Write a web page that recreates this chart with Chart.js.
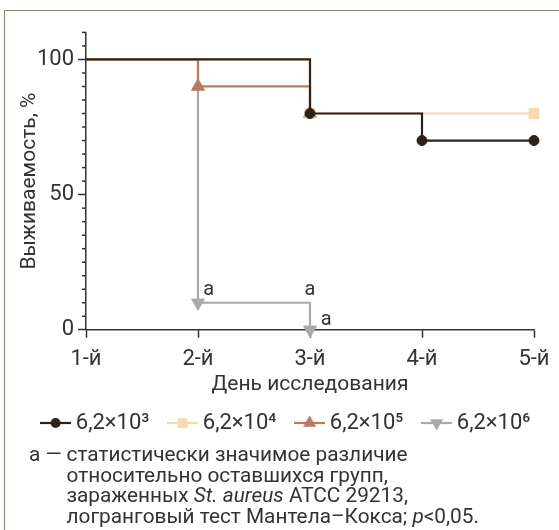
<!DOCTYPE html>
<html>
<head>
<meta charset="utf-8">
<script src="https://cdn.jsdelivr.net/npm/chart.js@4/dist/chart.umd.min.js"></script>
<style>
  body { margin: 0; background: #fff; }
  #wrap { position: relative; width: 559px; height: 530px; overflow: hidden; font-family: Roboto, sans-serif; color: #333; }
  #frame { position: absolute; left: 4px; top: 10px; width: 700px; height: 700px; border-top: 1.5px solid #8f7e66; border-left: 1.5px solid #8f7e66; }
  #cv { position: absolute; left: 0; top: 0; }
  #note { position: absolute; left: 29px; top: 444px; display: flex; font-size: 20.8px; line-height: 20.6px; white-space: nowrap; }
  #note .mark { width: 37.5px; }
</style>
</head>
<body>
<div id="wrap">
  <div id="frame"></div>
  <canvas id="cv" width="559" height="444"></canvas>
  <div id="note">
    <span class="mark">а —</span>
    <span>статистически значимое различие<br>относительно оставшихся групп,<br>зараженных <i>St. aureus</i> ATCC 29213,<br>логранговый тест Мантела–Кокса; <i>p</i>&lt;0,05.</span>
  </div>
</div>
<script>
// дни наблюдения и выживаемость по группам (КОЕ)
const days = [1, 2, 3, 4, 5];
const dayLabels = ['1-й', '2-й', '3-й', '4-й', '5-й'];
const groupNames = ['6,2×10³', '6,2×10⁴', '6,2×10⁵', '6,2×10⁶'];
const survival1 = [100, 100, 80, 70, 70];
const survival2 = [100, 100, 80, 80, 80];
const survival3 = [100, 90, 80];
const survival4 = [100, 10, 0];
const yLabelTicks = [0, 50, 100];
// метки «а» (значимое различие)
const noteX = [2.095, 3.0, 3.145];
const noteY = [14.6, 14.6, 3.7];
const noteText = ['a', 'a', 'a'];

const colors = ['#2c211b', '#f9d8ae', '#b77b61', '#a8a9ac'];
const styles = ['circle', 'rect', 'triangle', 'triangle'];
const rotations = [0, 0, 0, 180];
const radii = [5, 7, 7.5, 7.5];
const axisColor = '#333';
const FONT = 'Roboto, sans-serif';

function toPoints(vals) {
    return vals.map((v, i) => ({x: days[i], y: v}));
}

// маркер только там, где выживаемость изменилась, и в последней точке
function markRadius(r) {
    return ctx => {
        const d = ctx.dataset.data, i = ctx.dataIndex;
        if (i === 0) return 0;
        if (i === d.length - 1 || d[i].y !== d[i - 1].y) return r;
        return 0;
    };
}

function legendIcon(i) {
    const c = document.createElement('canvas');
    c.width = 31; c.height = 16;
    const g = c.getContext('2d');
    g.strokeStyle = colors[i]; g.lineWidth = 2.2;
    g.beginPath(); g.moveTo(0, 8); g.lineTo(31, 8); g.stroke();
    g.fillStyle = colors[i];
    Chart.helpers.drawPoint(g, {pointStyle: styles[i], radius: radii[i], rotation: rotations[i], borderWidth: 0}, 15.5, 8);
    return c;
}

const allSeries = [survival1, survival2, survival3, survival4];
const datasets = allSeries.map((vals, i) => ({
    label: groupNames[i],
    data: toPoints(vals),
    borderColor: colors[i],
    backgroundColor: colors[i],
    borderWidth: 2.2,
    stepped: 'before',
    pointStyle: styles[i],
    pointRotation: rotations[i],
    pointRadius: markRadius(radii[i]),
    pointBorderWidth: 1,
    pointHoverRadius: markRadius(radii[i]),
    clip: false
}));

const extras = {
    id: 'extras',
    beforeDatasetsDraw(chart) {
        const {ctx, scales: {y}} = chart;
        ctx.save();
        ctx.strokeStyle = axisColor;
        ctx.lineWidth = 1.5;
        y.ticks.forEach(t => {
            if (yLabelTicks.includes(t.value)) return;
            const py = y.getPixelForValue(t.value);
            ctx.beginPath();
            ctx.moveTo(y.right - 4, py);
            ctx.lineTo(y.right, py);
            ctx.stroke();
        });
        ctx.restore();
    },
    afterDraw(chart) {
        const {ctx, scales: {x, y}} = chart;
        ctx.save();
        ctx.fillStyle = axisColor;
        ctx.font = '20px ' + FONT;
        ctx.textAlign = 'center';
        ctx.textBaseline = 'middle';
        noteText.forEach((s, i) => ctx.fillText(s, x.getPixelForValue(noteX[i]), y.getPixelForValue(noteY[i])));
        ctx.restore();
    }
};

new Chart(document.getElementById('cv'), {
    type: 'line',
    data: {datasets},
    plugins: [extras],
    options: {
        responsive: false,
        animation: false,
        events: [],
        layout: {padding: {left: 21.4, right: 3.6, top: 32.4, bottom: 0}},
        plugins: {
            tooltip: {enabled: false},
            legend: {
                position: 'bottom',
                labels: {
                    usePointStyle: true,
                    pointStyleWidth: 18.4,
                    boxHeight: 16,
                    padding: 24,
                    color: axisColor,
                    font: {family: FONT, size: 22},
                    generateLabels: chart => chart.data.datasets.map((ds, i) => ({
                        text: ds.label,
                        pointStyle: legendIcon(i),
                        fillStyle: colors[i],
                        strokeStyle: colors[i],
                        lineWidth: 0,
                        fontColor: axisColor,
                        datasetIndex: i,
                        hidden: false
                    }))
                }
            }
        },
        scales: {
            x: {
                type: 'linear',
                min: 1, max: 5,
                afterFit: s => { s.height = 58.2; },
                border: {color: axisColor, width: 1.5},
                grid: {drawOnChartArea: false, tickLength: 8, tickWidth: 1.5, tickColor: axisColor},
                ticks: {stepSize: 1, padding: 8, color: axisColor, font: {family: FONT, size: 22},
                        callback: v => dayLabels[v - 1]},
                title: {display: true, text: 'День исследования', color: axisColor,
                        font: {family: FONT, size: 21}, padding: {top: 0, bottom: -9}}
            },
            y: {
                min: 0, max: 110,
                afterFit: s => { s.width = 64.6; },
                border: {color: axisColor, width: 1.5},
                grid: {drawOnChartArea: false, tickLength: 8, tickWidth: 1.5,
                       tickColor: c => yLabelTicks.includes(c.tick.value) ? axisColor : 'rgba(0,0,0,0)'},
                ticks: {stepSize: 5, autoSkip: false, padding: 4, color: axisColor, font: {family: FONT, size: 22},
                        callback: v => yLabelTicks.includes(v) ? v : ''},
                title: {display: true, text: 'Выживаемость, %', color: axisColor,
                        font: {family: FONT, size: 21}, padding: {top: -4.6, bottom: 0}}
            },
            // пустая ось справа: только резервирует место
            yR: {
                position: 'right',
                min: 0, max: 110,
                afterFit: s => { s.width = 21.4; },
                border: {display: false},
                grid: {display: false},
                ticks: {display: false}
            }
        }
    }
});
</script>
</body>
</html>
